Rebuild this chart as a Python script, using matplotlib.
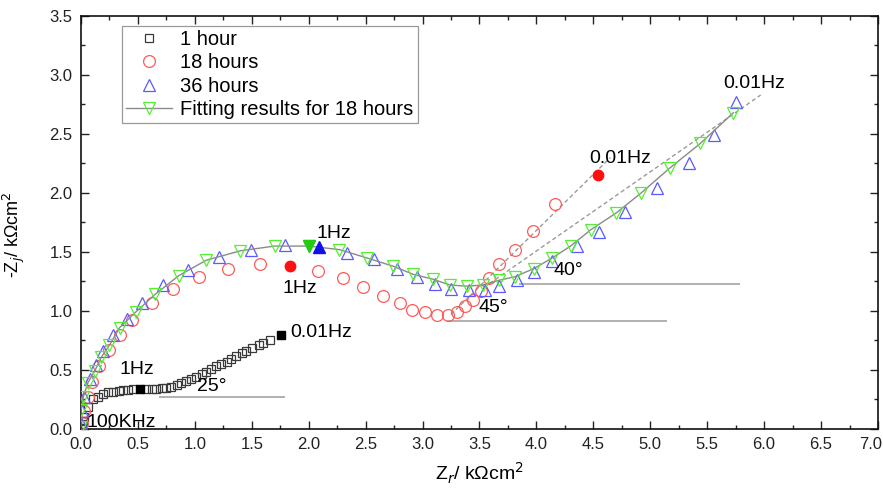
import matplotlib
matplotlib.use("Agg")
import matplotlib.pyplot as plt
from matplotlib.ticker import MultipleLocator, FuncFormatter

plt.rcParams['font.family'] = ['Liberation Sans', 'DejaVu Sans']

# ---------------- data ----------------
h1_x = [0.00, 0.01, 0.02, 0.03, 0.06, 0.11, 0.15, 0.19, 0.24, 0.28, 0.33, 0.37, 0.41, 0.46,
        0.57, 0.62, 0.66, 0.71, 0.75, 0.79, 0.84, 0.88, 0.92, 0.97, 1.01, 1.06, 1.10,
        1.14, 1.19, 1.23, 1.28, 1.32, 1.36, 1.41, 1.45, 1.50, 1.56, 1.60, 1.66]
h1_y = [0.01, 0.04, 0.07, 0.10, 0.19, 0.25, 0.27, 0.30, 0.31, 0.31, 0.32, 0.33, 0.33, 0.34,
        0.34, 0.34, 0.34, 0.35, 0.35, 0.36, 0.37, 0.39, 0.41, 0.42, 0.44, 0.47, 0.48,
        0.51, 0.53, 0.55, 0.57, 0.59, 0.62, 0.64, 0.66, 0.69, 0.71, 0.73, 0.75]
h1_hz_x = [0.52, 1.76]
h1_hz_y = [0.34, 0.80]

h18_x = [0.01, 0.03, 0.06, 0.10, 0.16, 0.25, 0.34, 0.45, 0.62, 0.81, 1.04, 1.29, 1.57,
         2.08, 2.30, 2.48, 2.65, 2.80, 2.91, 3.02, 3.13, 3.22, 3.30, 3.37, 3.44, 3.51,
         3.58, 3.67, 3.81, 3.97, 4.16]
h18_y = [0.05, 0.15, 0.27, 0.40, 0.53, 0.67, 0.80, 0.92, 1.07, 1.19, 1.29, 1.36, 1.40,
         1.34, 1.28, 1.20, 1.13, 1.07, 1.01, 0.99, 0.97, 0.97, 0.99, 1.04, 1.09, 1.17,
         1.28, 1.40, 1.52, 1.68, 1.91]
h18_hz_x = [1.84, 4.54]
h18_hz_y = [1.38, 2.15]

h36_x = [0.00, 0.01, 0.03, 0.08, 0.13, 0.19, 0.28, 0.40, 0.54, 0.72, 0.94, 1.21, 1.49, 1.79,
         2.34, 2.57, 2.78, 2.95, 3.11, 3.25, 3.41, 3.55, 3.67, 3.83, 3.98, 4.14, 4.36,
         4.55, 4.78, 5.06, 5.34, 5.56, 5.75]
h36_y = [0.05, 0.15, 0.27, 0.42, 0.54, 0.66, 0.80, 0.93, 1.07, 1.22, 1.35, 1.46, 1.52, 1.56,
         1.49, 1.44, 1.36, 1.29, 1.23, 1.19, 1.18, 1.18, 1.21, 1.26, 1.33, 1.42, 1.55,
         1.67, 1.84, 2.04, 2.25, 2.49, 2.77]
h36_hz_x = [2.09]
h36_hz_y = [1.54]

fit_x = [0.00, 0.00, 0.02, 0.06, 0.12, 0.18, 0.25, 0.34, 0.48, 0.65, 0.86, 1.10, 1.40, 1.70,
         2.00, 2.27, 2.51, 2.74, 2.92, 3.09, 3.24, 3.39, 3.53, 3.67, 3.81, 3.98, 4.14,
         4.30, 4.48, 4.70, 4.92, 5.17, 5.44, 5.73]
fit_y = [0.02, 0.16, 0.27, 0.39, 0.49, 0.61, 0.71, 0.86, 0.99, 1.14, 1.30, 1.43, 1.51, 1.55,
         1.55, 1.52, 1.45, 1.38, 1.31, 1.27, 1.22, 1.21, 1.22, 1.26, 1.29, 1.36, 1.45,
         1.55, 1.69, 1.83, 2.00, 2.21, 2.42, 2.68]
fit_hz_x = [2.00]
fit_hz_y = [1.55]

# guide lines (Warburg slopes) and horizontal references
dash18_x = [3.25, 4.65]
dash18_y = [0.97, 2.30]
dash36_x = [3.54, 5.97]
dash36_y = [1.20, 2.83]
ref25_x = [0.69, 1.78]
ref25_y = [0.27, 0.27]
ref45_x = [3.22, 5.14]
ref45_y = [0.918, 0.918]
ref40_x = [3.86, 5.78]
ref40_y = [1.226, 1.226]

labels = ["1 hour", "18 hours", "36 hours", "Fitting results for 18 hours"]
x_max = 7.0

# ---------------- plot ----------------
fig = plt.figure(figsize=(8.83, 4.99), dpi=100)
ax = fig.add_axes([0.0917, 0.1403, 0.9026, 0.8277])

c_sq = '#3a3a3a'
c_red = '#ff5a5a'
c_blue = '#5a5aff'
c_green = '#55ee33'
c_gl = '#9a9a9a'

# reference lines
for xs, ys in [(ref25_x, ref25_y), (ref45_x, ref45_y), (ref40_x, ref40_y)]:
    ax.plot(xs, ys, color='#b0b0b0', lw=1.4, zorder=1)
ax.plot(dash18_x, dash18_y, ls='--', color=c_gl, lw=1.0, dashes=(3, 2), zorder=1)
ax.plot(dash36_x, dash36_y, ls='--', color=c_gl, lw=1.0, dashes=(3, 2), zorder=1)

ax.plot(h1_x, h1_y, ls='none', marker='s', ms=6, mfc='none', mec=c_sq, mew=0.9,
        label=labels[0], zorder=3)
ax.plot(h18_x, h18_y, ls='none', marker='o', ms=8.5, mfc='none', mec=c_red, mew=0.9,
        label=labels[1], zorder=3)
ax.plot(h36_x, h36_y, ls='none', marker='^', ms=9, mfc='none', mec=c_blue, mew=0.9,
        label=labels[2], zorder=3)
ax.plot(fit_x, fit_y, ls='-', color='#8a8a8a', lw=1.0, marker='v', ms=9, mfc='none',
        mec=c_green, mew=0.9, label=labels[3], zorder=4)

# filled frequency markers
ax.plot(h1_hz_x, h1_hz_y, ls='none', marker='s', ms=6, color='black', zorder=5)
ax.plot(h18_hz_x, h18_hz_y, ls='none', marker='o', ms=7.5, color='#ff1010', zorder=5)
ax.plot(h36_hz_x, h36_hz_y, ls='none', marker='^', ms=9, color='#1010ee', zorder=5)
ax.plot(fit_hz_x, fit_hz_y, ls='none', marker='v', ms=9, color='#22cc11', zorder=5)

# annotations
fs = 14
ax.text(0.05, 0.02, "100KHz", fontsize=fs, ha='left', va='baseline')
ax.text(0.34, 0.50, "1Hz", fontsize=fs, ha='left', va='center')
ax.text(1.02, 0.36, "25°", fontsize=fs, ha='left', va='center')
ax.text(1.84, 0.82, "0.01Hz", fontsize=fs, ha='left', va='center')
ax.text(2.07, 1.66, "1Hz", fontsize=fs, ha='left', va='center')
ax.text(1.77, 1.19, "1Hz", fontsize=fs, ha='left', va='center')
ax.text(4.46, 2.29, "0.01Hz", fontsize=fs, ha='left', va='center')
ax.text(5.64, 2.93, "0.01Hz", fontsize=fs, ha='left', va='center')
ax.text(4.15, 1.34, "40°", fontsize=fs, ha='left', va='center')
ax.text(3.49, 1.03, "45°", fontsize=fs, ha='left', va='center')

ax.set_xlim(0, x_max)
ax.set_ylim(0, 3.5)
ax.xaxis.set_major_locator(MultipleLocator(0.5))
ax.xaxis.set_minor_locator(MultipleLocator(0.25))
ax.yaxis.set_major_locator(MultipleLocator(0.5))
ax.yaxis.set_minor_locator(MultipleLocator(0.25))
# last x label is drawn separately so it stays inside the canvas
ax.xaxis.set_major_formatter(FuncFormatter(
    lambda v, p: "" if abs(v - x_max) < 1e-6 else f"{v:.1f}"))
ax.yaxis.set_major_formatter(plt.FormatStrFormatter('%.1f'))
ax.tick_params(which='both', direction='in', top=True, right=True, width=1.0,
               labelsize=12, colors='#222222')
ax.tick_params(which='major', length=6, pad=6)
ax.tick_params(which='minor', length=3)
for s in ax.spines.values():
    s.set_linewidth(1.2)
    s.set_color('#111111')
ax.annotate(f"{x_max:.1f}", xy=(x_max, 0), xycoords=('data', 'axes fraction'),
            xytext=(-5.5, -6), textcoords='offset points', ha='center', va='top',
            fontsize=12, color='#222222', annotation_clip=False)

ax.set_xlabel("Z$_r$/ k\u03a9cm$^2$", fontsize=14, labelpad=6)
ax.set_ylabel("-Z$_j$/ k\u03a9cm$^2$", fontsize=13)
ax.yaxis.set_label_coords(-0.068, 0.47)

leg = ax.legend(loc='upper left', bbox_to_anchor=(0.0514, 0.976), fontsize=14.5,
                frameon=True, fancybox=False, edgecolor='#999999', framealpha=1,
                handlelength=2.3, handletextpad=0.4, labelspacing=0.22,
                borderpad=0.2, borderaxespad=0)
leg.get_frame().set_linewidth(0.9)

fig.savefig("out.png", dpi=100)
